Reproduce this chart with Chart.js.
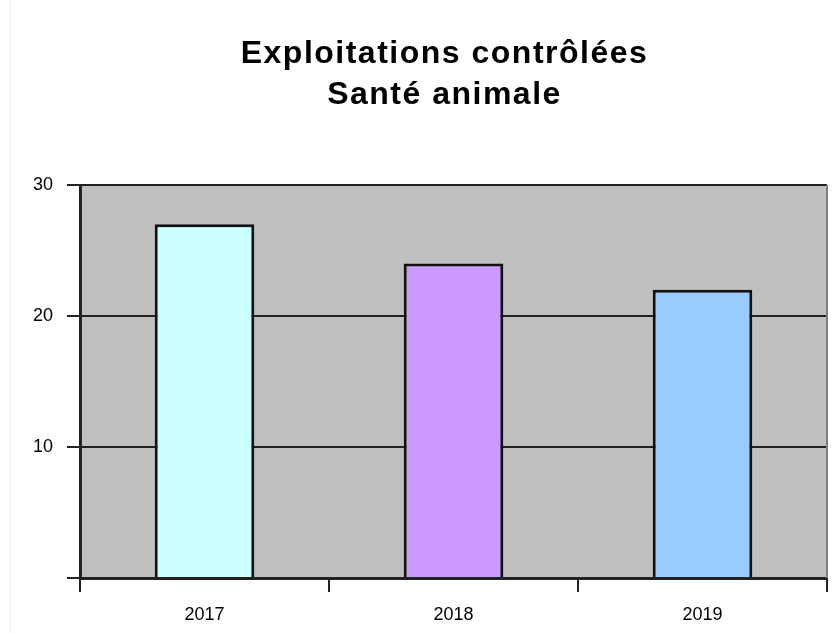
<!DOCTYPE html>
<html>
<head>
<meta charset="utf-8">
<script src="https://cdn.jsdelivr.net/npm/chart.js@4.4.1/dist/chart.umd.min.js"></script>
<style>
  html, body { margin: 0; padding: 0; background: #fff; }
  #wrap { width: 834px; height: 633px; }
</style>
</head>
<body>
<div id="wrap"><canvas id="c" width="834" height="633"></canvas></div>
<script>
const titleLines = ['Exploitations contrôlées', 'Santé animale'];
const years = ['2017', '2018', '2019'];
const exploitations = [27, 24, 22];
const yTickValues = [0, 10, 20, 30];

const barColors = ['#CCFFFF', '#CC99FF', '#99CCFF'];
const FONT = 'Liberation Sans, Arial, sans-serif';

const plotBg = {
  id: 'plotBg',
  afterLayout(chart) {
    // title is centred over the plot area and drawn a bit wider
    const tb = chart.titleBlock;
    if (tb && !tb._spaced) {
      const orig = tb.draw.bind(tb);
      tb.draw = function (area) {
        const ctx = chart.ctx;
        ctx.save();
        ctx.letterSpacing = '1.5px';
        ctx.translate(31, 0);
        orig(area);
        ctx.restore();
      };
      tb._spaced = true;
    }
  },
  beforeDraw(chart) {
    const { ctx, chartArea: a } = chart;
    ctx.save();
    ctx.fillStyle = '#C0C0C0';
    ctx.fillRect(a.left, a.top, a.right - a.left, a.bottom - a.top);
    ctx.strokeStyle = '#EEEEEE';
    ctx.lineWidth = 1;
    ctx.beginPath();
    ctx.moveTo(10.5, 0);
    ctx.lineTo(10.5, chart.height);
    ctx.stroke();
    ctx.restore();
  },
  afterDatasetsDraw(chart) {
    const { ctx, chartArea: a } = chart;
    ctx.save();
    ctx.strokeStyle = '#808080';
    ctx.lineWidth = 2;
    ctx.beginPath();
    ctx.moveTo(a.right, a.top);
    ctx.lineTo(a.right, a.bottom);
    ctx.stroke();
    ctx.restore();
  }
};

new Chart(document.getElementById('c'), {
  type: 'bar',
  data: {
    labels: years,
    datasets: [{
      data: exploitations,
      backgroundColor: barColors,
      borderColor: '#111',
      borderWidth: 3,
      barPercentage: 0.4,
      categoryPercentage: 1
    }]
  },
  options: {
    responsive: false,
    animation: false,
    layout: { padding: { left: 0, right: 7, top: 0, bottom: 0 } },
    plugins: {
      legend: { display: false },
      tooltip: { enabled: false },
      title: {
        display: true,
        text: titleLines,
        color: '#000',
        font: { family: FONT, size: 32, weight: 'bold', lineHeight: 41 / 32 },
        padding: { top: 34, bottom: 69 }
      }
    },
    scales: {
      x: {
        afterFit: (s) => { s.height = 55; },
        grid: { offset: true, drawOnChartArea: false, drawTicks: true, tickLength: 14, color: '#222', lineWidth: 2 },
        border: { display: true, color: '#222', width: 3 },
        ticks: { color: '#000', padding: 12, font: { family: FONT, size: 18 } }
      },
      y: {
        min: 0,
        max: 30,
        afterFit: (s) => { s.width = 80; },
        afterBuildTicks: (s) => { s.ticks = yTickValues.map(v => ({ value: v })); },
        grid: { color: '#222', lineWidth: 2, drawTicks: true, tickLength: 13 },
        border: { display: true, color: '#222', width: 3 },
        ticks: {
          color: '#000',
          padding: 14,
          font: { family: FONT, size: 18 },
          callback: (v) => v === 0 ? '' : v
        }
      }
    }
  },
  plugins: [plotBg]
});
</script>
</body>
</html>
